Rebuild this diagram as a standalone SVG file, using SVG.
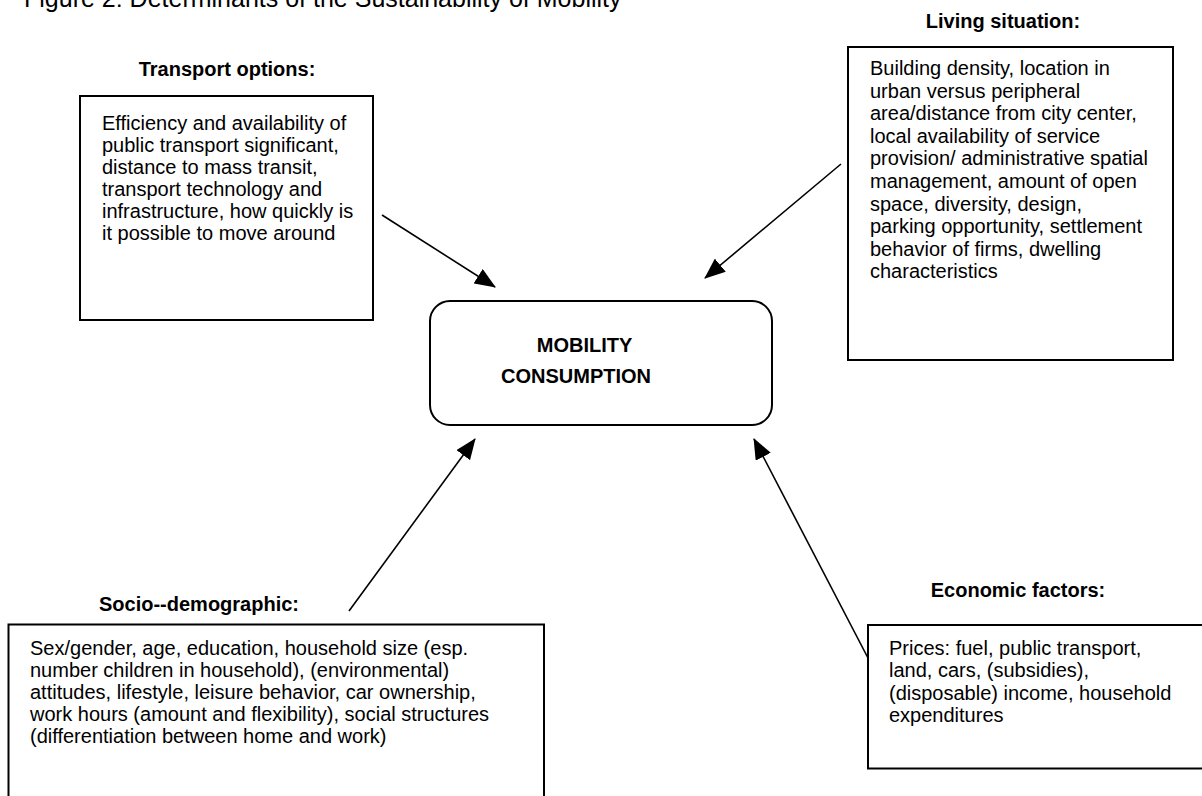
<svg xmlns="http://www.w3.org/2000/svg" width="1202" height="796" viewBox="0 0 1202 796">
<style>
  text { font-family: "Liberation Sans", Arial, sans-serif; fill: #000; }
  .title { font-size: 25px; }
  .head { font-size: 20px; font-weight: bold; text-anchor: middle; }
  .body { font-size: 20px; }
  .center { font-size: 20px; font-weight: bold; text-anchor: middle; }
  .box { fill: #fff; stroke: #000; stroke-width: 2; }
  .conn { stroke: #000; stroke-width: 1.6; fill: none; marker-end: url(#arrow); }
</style>
<defs>
  <marker id="arrow" markerUnits="userSpaceOnUse" markerWidth="21" markerHeight="17" viewBox="0 0 21 17" refX="20" refY="8.5" orient="auto">
    <path d="M0,0 L21,8.5 L0,17 z" fill="#000"/>
  </marker>
</defs>
<rect width="1202" height="796" fill="#fff"/>

<text class="title" x="24" y="6.5">Figure 2: Determinants of the Sustainability of Mobility</text>

<g id="connectors">
  <line class="conn" x1="382" y1="215" x2="495" y2="287"/>
  <line class="conn" x1="841" y1="164" x2="705" y2="278"/>
  <line class="conn" x1="349" y1="611" x2="475" y2="439"/>
  <line class="conn" x1="868" y1="658" x2="754" y2="439"/>
</g>

<g id="transport">
  <text class="head" x="227" y="76">Transport options:</text>
  <rect class="box" x="80" y="96" width="293" height="224"/>
  <text class="body" x="102">
    <tspan x="102" y="130">Efficiency and availability of</tspan>
    <tspan x="102" y="152">public transport significant,</tspan>
    <tspan x="102" y="174">distance to mass transit,</tspan>
    <tspan x="102" y="196">transport technology and</tspan>
    <tspan x="102" y="218">infrastructure, how quickly is</tspan>
    <tspan x="102" y="240">it possible to move around</tspan>
  </text>
</g>

<g id="living">
  <text class="head" x="1003" y="27.5">Living situation:</text>
  <rect class="box" x="848" y="47" width="325" height="313"/>
  <text class="body">
    <tspan x="870" y="75">Building density, location in</tspan>
    <tspan x="870" y="97.6">urban versus peripheral</tspan>
    <tspan x="870" y="120.2">area/distance from city center,</tspan>
    <tspan x="870" y="142.8">local availability of service</tspan>
    <tspan x="870" y="165.4">provision/ administrative spatial</tspan>
    <tspan x="870" y="188">management, amount of open</tspan>
    <tspan x="870" y="210.6">space, diversity, design,</tspan>
    <tspan x="870" y="233.2">parking opportunity, settlement</tspan>
    <tspan x="870" y="255.8">behavior of firms, dwelling</tspan>
    <tspan x="870" y="278.4">characteristics</tspan>
  </text>
</g>

<g id="mobility">
  <rect class="box" x="430" y="301" width="342" height="124" rx="20" ry="20"/>
  <text class="center" x="584.5" y="352">MOBILITY</text>
  <text class="center" x="576" y="383">CONSUMPTION</text>
</g>

<g id="socio">
  <text class="head" x="199" y="611">Socio--demographic:</text>
  <rect class="box" x="8.5" y="624.5" width="535.5" height="190"/>
  <text class="body">
    <tspan x="30" y="655">Sex/gender, age, education, household size (esp.</tspan>
    <tspan x="30" y="677">number children in household), (environmental)</tspan>
    <tspan x="30" y="699">attitudes, lifestyle, leisure behavior, car ownership,</tspan>
    <tspan x="30" y="721">work hours (amount and flexibility), social structures</tspan>
    <tspan x="30" y="743">(differentiation between home and work)</tspan>
  </text>
</g>

<g id="economic">
  <text class="head" x="1018" y="597">Economic factors:</text>
  <rect class="box" x="868" y="625" width="345" height="143.5"/>
  <text class="body">
    <tspan x="889" y="655">Prices: fuel, public transport,</tspan>
    <tspan x="889" y="677.3">land, cars, (subsidies),</tspan>
    <tspan x="889" y="699.6">(disposable) income, household</tspan>
    <tspan x="889" y="721.9">expenditures</tspan>
  </text>
</g>
</svg>
